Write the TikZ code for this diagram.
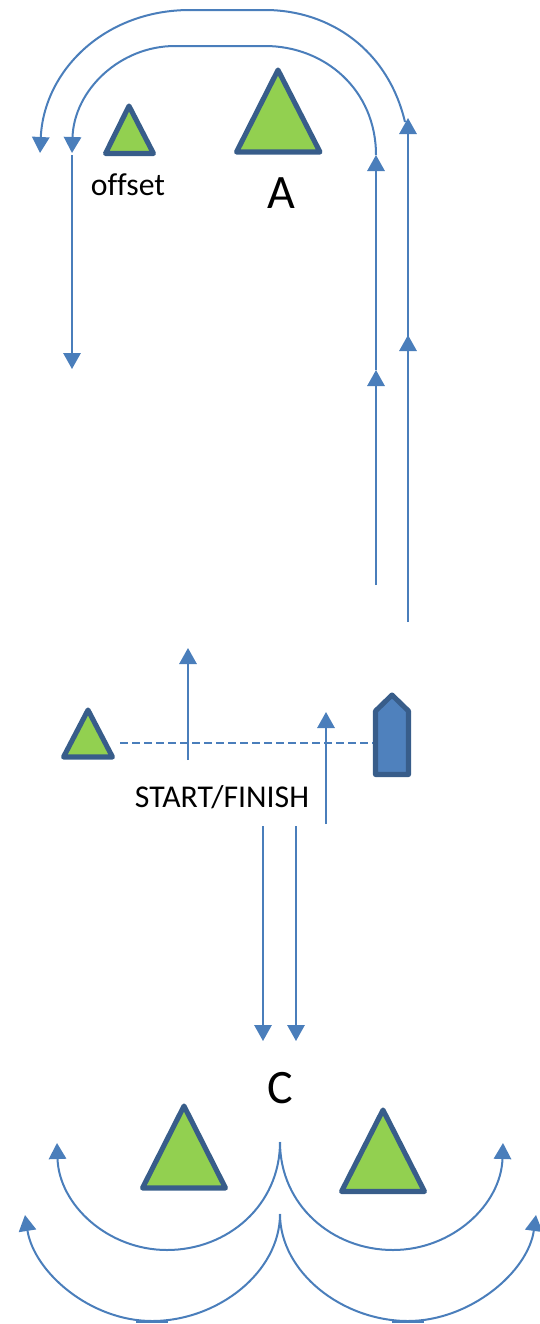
\documentclass[tikz,border=0pt]{standalone}
\usepackage{fontspec}
\setmainfont{Carlito}[Ligatures=NoCommon]
\usetikzlibrary{arrows.meta}
\definecolor{lineblue}{HTML}{4A7EBB}
\definecolor{markedge}{HTML}{385D8A}
\definecolor{markfill}{HTML}{92D050}
\definecolor{boatfill}{HTML}{4F81BD}
\tikzset{
  route/.style={draw=lineblue,line width=1.5pt,-{Triangle[length=12pt,width=13pt,fill=lineblue]}},
  plainroute/.style={draw=lineblue,line width=1.5pt},
  markshape/.style={draw=markedge,fill=markfill,line width=3.8pt,line join=round},
  boatshape/.style={draw=markedge,fill=boatfill,line width=3.8pt,line join=round},
  small/.style={inner sep=0pt,font=\fontsize{23.8pt}{26pt}\selectfont,text=black},
  big/.style={inner sep=0pt,font=\fontsize{36pt}{38pt}\selectfont,text=black}
}
\begin{document}
\begin{tikzpicture}[x=0.75pt,y=-0.75pt]
\useasboundingbox (0,0) rectangle (539,1324);
% marks
\draw[markshape] (129,106) -- (153.5,153.5) -- (105.5,153.5) -- cycle;
\draw[markshape] (278,70) -- (320,152) -- (236.5,152) -- cycle;
\draw[markshape] (88,710) -- (112.5,757) -- (63.5,757) -- cycle;
\draw[markshape] (184,1106) -- (225.5,1188) -- (142.5,1188) -- cycle;
\draw[markshape] (383,1110) -- (424.5,1191.5) -- (341.5,1191.5) -- cycle;
\draw[boatshape] (392,695) -- (408.5,711) -- (408.5,774.5) -- (375.5,774.5) -- (375.5,711) -- cycle;
% labels
\node[small] (offsetlabel) at (128,185) {of{}fset};
\node[big] (alabel) at (281,193) {A};
\node[small] (startlabel) at (222,797) {START/FINISH};
\node[big] (clabel) at (280,1088) {C};
% named ends
\coordinate (o1) at (408,622); \coordinate (o2) at (408,335);
\coordinate (o3) at (408,405); \coordinate (o4) at (408,118);
\coordinate (o5) at (405,122); \coordinate (o6) at (265,10);
\coordinate (o7) at (190,10); \coordinate (o8) at (40,153);
\coordinate (i1) at (376,585); \coordinate (i2) at (376,370);
\coordinate (i3) at (376,370); \coordinate (i4) at (376,155);
\coordinate (i5) at (376,155); \coordinate (i6) at (265,46);
\coordinate (i7) at (175,46); \coordinate (i8) at (72,153);
\coordinate (i9) at (72,155); \coordinate (i10) at (72,369);
\coordinate (s1) at (188,760); \coordinate (s2) at (188,648);
\coordinate (s3) at (326,824); \coordinate (s4) at (326,712);
\coordinate (d1) at (120,743); \coordinate (d2) at (373,743);
\coordinate (f1) at (263,826); \coordinate (f2) at (263,1041);
\coordinate (f3) at (296,826); \coordinate (f4) at (296,1041);
\coordinate (c0) at (280,1142); \coordinate (c1) at (167,1250); \coordinate (c2) at (57,1143);
\coordinate (c3) at (393,1250); \coordinate (c4) at (503,1143);
\coordinate (e0) at (280,1214); \coordinate (e1) at (152,1321); \coordinate (e2) at (25,1215);
\coordinate (e3) at (408,1321); \coordinate (e4) at (536,1215);
% top
\draw[route] (o1) -- (o2);
\draw[route] (o3) -- (o4);
\draw[plainroute] (o5) .. controls (388,50) and (330,10) .. (o6) -- (o7);
\draw[route] (o7) .. controls (105,10) and (44,70) .. (o8);
\draw[route] (i1) -- (i2);
\draw[route] (i3) -- (i4);
\draw[plainroute] (i5) .. controls (376,90) and (325,46) .. (i6) -- (i7);
\draw[route] (i7) .. controls (120,46) and (74,90) .. (i8);
\draw[route] (i9) -- (i10);
% start
\draw[route] (s1) -- (s2);
\draw[route] (s3) -- (s4);
\draw[plainroute,dashed,dash pattern=on 6pt off 3pt] (d1) -- (d2);
\draw[route] (f1) -- (f2);
\draw[route] (f3) -- (f4);
% bottom
\draw[route] (c0) .. controls (280,1205) and (228,1250) .. (c1) .. controls (108,1250) and (59,1205) .. (c2);
\draw[route] (c0) .. controls (280,1205) and (332,1250) .. (c3) .. controls (452,1250) and (501,1205) .. (c4);
\draw[route] (e0) .. controls (280,1272) and (218,1321) .. (e1) .. controls (90,1321) and (34,1272) .. (e2);
\draw[route] (e0) .. controls (280,1272) and (342,1321) .. (e3) .. controls (470,1321) and (528,1272) .. (e4);
\draw[plainroute] (136,1322) -- (168,1322);
\draw[plainroute] (392,1322) -- (424,1322);
\end{tikzpicture}
\end{document}
